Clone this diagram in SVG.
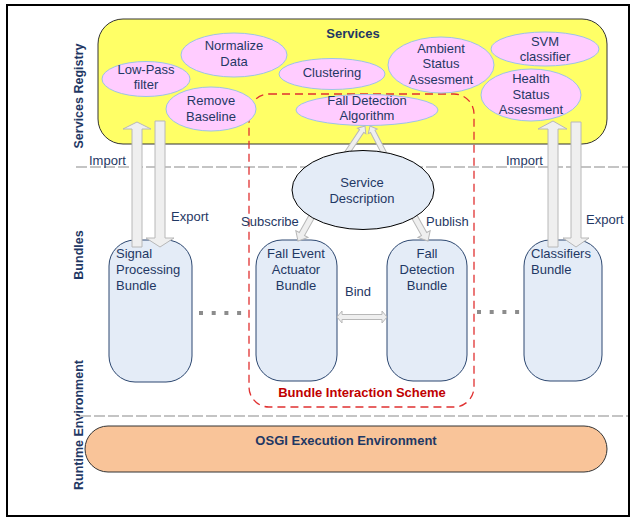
<svg xmlns="http://www.w3.org/2000/svg" width="634" height="519" viewBox="0 0 634 519">
  <style>
    text { font-family: "Liberation Sans", Arial, sans-serif; font-size: 13px; fill: #1F3864; }
    .c { text-anchor: middle; }
    .b { font-weight: bold; }
    .side { font-weight: bold; font-size: 12.5px; text-anchor: middle; }
    .svc { fill: #FFCCFF; stroke: #9DC3E6; stroke-width: 1; }
    .bundle { fill: #E4ECF7; stroke: #2C4770; stroke-width: 1; }
    .block { fill: #EFEFEF; stroke: #B8B8B8; stroke-width: 1; }
    .sep { stroke: #C4C4C4; stroke-width: 2; stroke-dasharray: 11 3; fill: none; }
    .dots { stroke: #8C8C8C; stroke-width: 4; stroke-dasharray: 4 8.7; fill: none; }
  </style>

  <!-- outer frame -->
  <rect x="7" y="5" width="622" height="511" fill="#FFFFFF" stroke="#000000" stroke-width="2"/>

  <!-- layer labels -->
  <text class="side" transform="translate(83,96) rotate(-90)">Services Registry</text>
  <text class="side" transform="translate(83,255) rotate(-90)">Bundles</text>
  <text class="side" transform="translate(83,425) rotate(-90)">Runtime Environment</text>

  <!-- services registry area -->
  <g id="services">
    <rect x="98" y="19" width="509" height="125" rx="25" fill="#FFFF66" stroke="#333333" stroke-width="1"/>
    <text class="c b" x="353" y="38">Services</text>
  </g>

  <!-- layer separators -->
  <line class="sep" x1="76" y1="167" x2="628" y2="167"/>
  <line class="sep" x1="80" y1="416" x2="628" y2="416"/>

  <!-- bundle interaction scheme boundary -->
  <g id="interaction-scheme">
    <rect x="249" y="94" width="225" height="313" rx="20" fill="none" stroke="#E03131" stroke-width="1.3" stroke-dasharray="8 5"/>
    <text class="c b" x="362" y="397" style="fill:#C00000">Bundle Interaction Scheme</text>
  </g>

  <!-- registered services -->
  <g id="svc-lowpass">
    <ellipse class="svc" cx="146" cy="79" rx="44" ry="17.5"/>
    <text class="c" x="146" y="74">Low-Pass</text>
    <text class="c" x="146" y="89">filter</text>
  </g>
  <g id="svc-normalize">
    <ellipse class="svc" cx="234" cy="55" rx="53" ry="22"/>
    <text class="c" x="234" y="50">Normalize</text>
    <text class="c" x="234" y="66">Data</text>
  </g>
  <g id="svc-clustering">
    <ellipse class="svc" cx="332" cy="74" rx="53" ry="15.5"/>
    <text class="c" x="332" y="77">Clustering</text>
  </g>
  <g id="svc-remove-baseline">
    <ellipse class="svc" cx="211" cy="109" rx="45" ry="22"/>
    <text class="c" x="211" y="105">Remove</text>
    <text class="c" x="211" y="121">Baseline</text>
  </g>
  <g id="svc-fall-detection">
    <ellipse class="svc" cx="367" cy="110" rx="71" ry="15.5"/>
    <text class="c" x="367" y="105">Fall Detection</text>
    <text class="c" x="367" y="120">Algorithm</text>
  </g>
  <g id="svc-ambient">
    <ellipse class="svc" cx="441" cy="65" rx="53" ry="28"/>
    <text class="c" x="441" y="53">Ambient</text>
    <text class="c" x="441" y="68">Status</text>
    <text class="c" x="441" y="84">Assesment</text>
  </g>
  <g id="svc-svm">
    <ellipse class="svc" cx="545" cy="49" rx="54" ry="17"/>
    <text class="c" x="545" y="46">SVM</text>
    <text class="c" x="545" y="61">classifier</text>
  </g>
  <g id="svc-health">
    <ellipse class="svc" cx="531" cy="95" rx="50" ry="26"/>
    <text class="c" x="531" y="83">Health</text>
    <text class="c" x="531" y="99">Status</text>
    <text class="c" x="531" y="114">Assesment</text>
  </g>

  <!-- bundles -->
  <g id="bundle-signal">
    <rect class="bundle" x="109" y="240" width="83" height="142" rx="26"/>
    <text x="116" y="258">Signal</text>
    <text x="116" y="274">Processing</text>
    <text x="116" y="290">Bundle</text>
  </g>
  <g id="bundle-actuator">
    <rect class="bundle" x="256" y="240" width="81" height="141" rx="26"/>
    <text class="c" x="296" y="258">Fall Event</text>
    <text class="c" x="296" y="274">Actuator</text>
    <text class="c" x="296" y="290">Bundle</text>
  </g>
  <g id="bundle-fall-detection">
    <rect class="bundle" x="387" y="240" width="80" height="141" rx="26"/>
    <text class="c" x="427" y="258">Fall</text>
    <text class="c" x="427" y="274">Detection</text>
    <text class="c" x="427" y="290">Bundle</text>
  </g>
  <g id="bundle-classifiers">
    <rect class="bundle" x="524" y="240" width="78" height="141" rx="26"/>
    <text x="531" y="258">Classifiers</text>
    <text x="531" y="274">Bundle</text>
  </g>

  <!-- runtime environment -->
  <g id="osgi">
    <rect x="85" y="426" width="522" height="46" rx="23" fill="#F9C499" stroke="#333333" stroke-width="1"/>
    <text class="c b" x="346" y="445">OSGI Execution Environment</text>
  </g>

  <!-- connectors -->
  <g id="connectors">
    <!-- more bundles -->
    <line class="dots" x1="199" y1="313" x2="242" y2="313"/>
    <line class="dots" x1="477" y1="312" x2="520" y2="312"/>

    <!-- import / export, left -->
    <polygon class="block" points="137,122 151,129 142,129 142,247 132,247 132,129 123,129"/>
    <polygon class="block" points="155,121 165,121 165,238 174,238 160,247 146,238 155,238"/>
    <!-- import / export, right -->
    <polygon class="block" points="553,121 567,129 558,129 558,247 548,247 548,129 538,129"/>
    <polygon class="block" points="571,122 581,122 581,238 589,238 576,247 563,238 571,238"/>

    <!-- description registers the algorithm -->
    <g transform="translate(365,126) rotate(-56.3)">
      <polygon class="block" points="0,0 -6,-5 -6,-2.5 -33,-2.5 -33,2.5 -6,2.5 -6,5"/>
    </g>
    <g transform="translate(370,126) rotate(-117.4)">
      <polygon class="block" points="0,0 -6,-5 -6,-2.5 -31,-2.5 -31,2.5 -6,2.5 -6,5"/>
    </g>

    <!-- subscribe / publish -->
    <g transform="translate(298,241) rotate(119.25)">
      <polygon class="block" points="0,0 -8,-7 -8,-3 -29,-3 -29,3 -8,3 -8,7"/>
    </g>
    <g transform="translate(428,241) rotate(60.75)">
      <polygon class="block" points="0,0 -8,-7 -8,-3 -29,-3 -29,3 -8,3 -8,7"/>
    </g>

    <!-- bind -->
    <polygon class="block" points="337,317 342,311 342,314.5 382,314.5 382,311 387,317 382,323 382,319.5 342,319.5 342,323"/>

    <text x="89" y="165">Import</text>
    <text x="171" y="221">Export</text>
    <text x="506" y="165">Import</text>
    <text x="586" y="224">Export</text>
    <text x="241" y="226">Subscribe</text>
    <text x="426" y="226">Publish</text>
    <text class="c" x="358" y="296">Bind</text>
  </g>

  <!-- service description -->
  <g id="service-description">
    <ellipse cx="363" cy="190" rx="71" ry="39.5" fill="#E4ECF7" stroke="#000000" stroke-width="1"/>
    <text class="c" x="362" y="187">Service</text>
    <text class="c" x="362" y="203">Description</text>
  </g>
</svg>
